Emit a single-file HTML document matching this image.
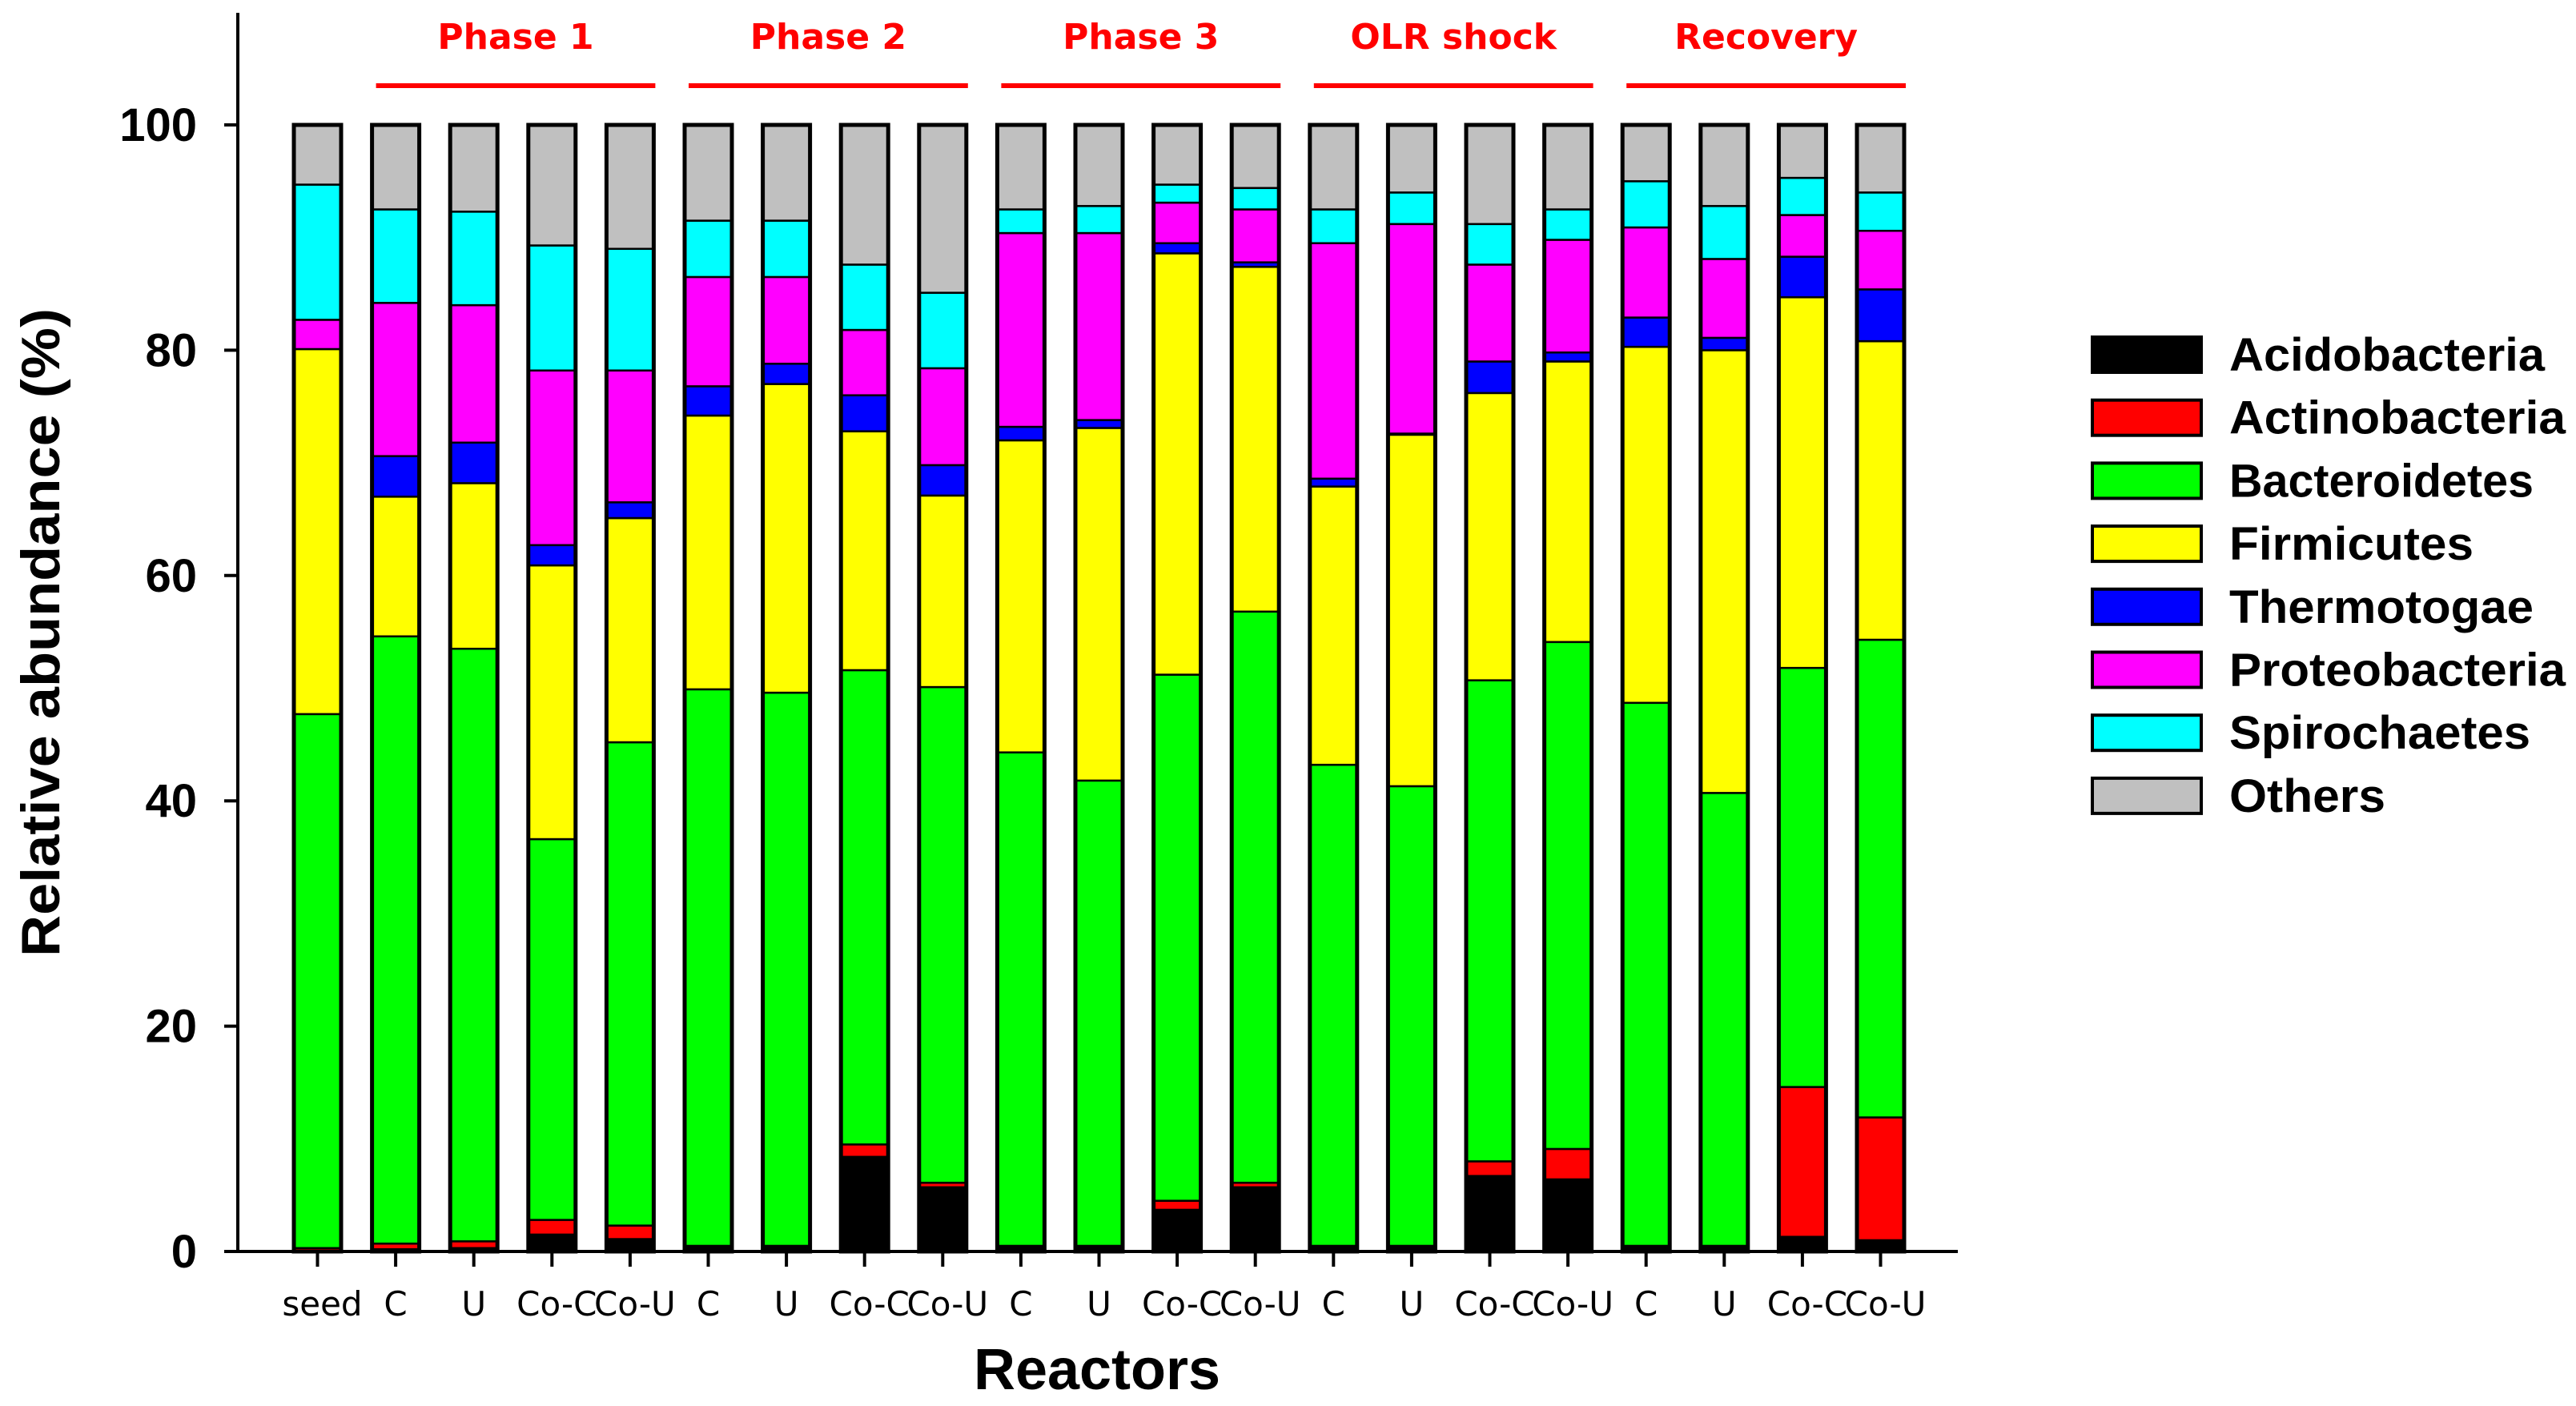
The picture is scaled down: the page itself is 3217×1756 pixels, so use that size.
<!DOCTYPE html>
<html><head><meta charset="utf-8"><style>
html,body{margin:0;padding:0;background:#fff;}
svg{display:block;}
</style></head><body>
<svg id="chart" width="3217" height="1756" viewBox="0 0 3217 1756" xmlns="http://www.w3.org/2000/svg">
<g id="bars"></g>
<g id="axes"></g>
<g id="legend"></g>
</svg>
<script>
const categories = ["seed","C","U","Co-C","Co-U","C","U","Co-C","Co-U","C","U","Co-C","Co-U","C","U","Co-C","Co-U","C","U","Co-C","Co-U"];
const acidobacteria  = [0,0.2,0.3,1.5,1.1,0.5,0.5,8.4,5.7,0.5,0.5,3.7,5.7,0.5,0.5,6.7,6.4,0.5,0.5,1.3,1.0];
const actinobacteria = [0.3,0.5,0.6,1.3,1.2,0,0,1.1,0.4,0,0,0.8,0.4,0,0,1.3,2.7,0,0,13.3,10.9];
const bacteroidetes  = [47.4,53.9,52.6,33.8,42.9,49.4,49.1,42.1,44.0,43.8,41.3,46.7,50.7,42.7,40.8,42.7,45.0,48.2,40.2,37.2,42.4];
const firmicutes     = [32.4,12.4,14.7,24.3,19.9,24.3,27.4,21.2,17.0,27.7,31.3,37.4,30.6,24.7,31.2,25.5,24.9,31.6,39.3,32.9,26.5];
const thermotogae    = [0,3.6,3.6,1.8,1.4,2.6,1.8,3.2,2.7,1.2,0.7,0.9,0.4,0.7,0.1,2.8,0.8,2.6,1.1,3.6,4.6];
const proteobacteria = [2.6,13.6,12.2,15.5,11.7,9.7,7.7,5.8,8.6,17.2,16.6,3.6,4.7,20.9,18.6,8.6,10.0,8.0,7.0,3.7,5.2];
const spirochaetes   = [12.0,8.3,8.3,11.1,10.8,5.0,5.0,5.8,6.7,2.1,2.4,1.6,1.9,3.0,2.8,3.6,2.7,4.1,4.7,3.3,3.4];
const others         = [5.3,7.5,7.7,10.7,11.0,8.5,8.5,12.4,14.9,7.5,7.2,5.3,5.6,7.5,6.0,8.8,7.5,5.0,7.2,4.7,6.0];
const seriesNames = ["Acidobacteria","Actinobacteria","Bacteroidetes","Firmicutes","Thermotogae","Proteobacteria","Spirochaetes","Others"];
const yTicks = [0,20,40,60,80,100];
const phaseNames = ["Phase 1","Phase 2","Phase 3","OLR shock","Recovery"];
const phaseStart = [1,5,9,13,17];
const phaseEnd = [4,8,12,16,20];

const series = [acidobacteria,actinobacteria,bacteroidetes,firmicutes,thermotogae,proteobacteria,spirochaetes,others];
const colors = ["#000000","#ff0000","#00ff00","#ffff00","#0000ff","#ff00ff","#00ffff","#c0c0c0"];
const NS = "http://www.w3.org/2000/svg";
const y0 = 1563, y100 = 156;
function yScale(v){ return y0 - (y0 - y100) * v / 100; }
const barW = 59, step = 97.6, firstX = 367;
function xLeft(i){ return firstX + step * i; }
function xCenter(i){ return xLeft(i) + barW / 2; }
function mk(tag, attrs, parent){ const e = document.createElementNS(NS, tag); for (const k in attrs) e.setAttribute(k, attrs[k]); parent.appendChild(e); return e; }

const barsG = document.getElementById('bars');
categories.forEach((c, i) => {
  const g = mk('g', {}, barsG);
  
  
  let cum = 0;
  series.forEach((s, k) => {
    const v = s[i];
    if (v <= 0) { return; }
    const r = mk('rect', {x: xLeft(i), y: yScale(cum + v), width: barW, height: yScale(cum) - yScale(cum + v), fill: colors[k], stroke: '#000', 'stroke-width': 2.5}, g);
    
    
    cum += v;
  });
  const o = mk('rect', {x: xLeft(i), y: yScale(cum), width: barW, height: yScale(0) - yScale(cum), fill: 'none', stroke: '#000', 'stroke-width': 5}, g);
  
  
});

const ax = document.getElementById('axes');
const yl = mk('line', {x1: 297, y1: 16, x2: 297, y2: 1565, stroke: '#000', 'stroke-width': 4}, ax);


const xl = mk('line', {x1: 280, y1: 1563, x2: 2445, y2: 1563, stroke: '#000', 'stroke-width': 4}, ax);


yTicks.forEach(t => {
  const l = mk('line', {x1: 280, y1: yScale(t), x2: 297, y2: yScale(t), stroke: '#000', 'stroke-width': 4}, ax);
  
  
  const tx = mk('text', {x: 246, y: yScale(t) + 20, 'text-anchor': 'end', 'font-family': 'Liberation Sans, sans-serif', 'font-weight': 'bold', 'font-size': 58, fill: '#000'}, ax);
  tx.textContent = t;
  
  
});
categories.forEach((c, i) => {
  const l = mk('line', {x1: xCenter(i), y1: 1563, x2: xCenter(i), y2: 1582, stroke: '#000', 'stroke-width': 4}, ax);
  
  
  const tx = mk('text', {x: xCenter(i) + (c.length > 2 ? 6 : 0), y: 1643, 'text-anchor': 'middle', 'font-family': 'DejaVu Sans, sans-serif', 'font-size': 42, fill: '#000'}, ax);
  tx.textContent = c;
  
  
});
phaseNames.forEach((p, j) => {
  const xa = xLeft(phaseStart[j]) + 5, xb = xLeft(phaseEnd[j]) + barW + 2;
  const l = mk('line', {x1: xa, y1: 107, x2: xb, y2: 107, stroke: '#ff0000', 'stroke-width': 6}, ax);
  
  
  const tx = mk('text', {x: (xa + xb) / 2, y: 61, 'text-anchor': 'middle', 'font-family': 'DejaVu Sans, sans-serif', 'font-weight': 'bold', 'font-size': 44, fill: '#ff0000'}, ax);
  tx.textContent = p;
  
  
});
const yt = mk('text', {x: 0, y: 0, transform: 'translate(74,790) rotate(-90)', 'text-anchor': 'middle', 'font-family': 'Liberation Sans, sans-serif', 'font-weight': 'bold', 'font-size': 68, textLength: 810, lengthAdjust: 'spacingAndGlyphs', fill: '#000'}, ax);
yt.textContent = 'Relative abundance (%)';


const xt = mk('text', {x: 1370, y: 1735, 'text-anchor': 'middle', 'font-family': 'Liberation Sans, sans-serif', 'font-weight': 'bold', 'font-size': 72, textLength: 308, lengthAdjust: 'spacingAndGlyphs', fill: '#000'}, ax);
xt.textContent = 'Reactors';



const lg = document.getElementById('legend');
const legendW = [394, 420, 380, 305, 380, 420, 376, 195];
seriesNames.forEach((n, k) => {
  const cy = 443 + k * 78.7;
  const g = mk('g', {}, lg);
  
  
  mk('rect', {x: 2613, y: cy - 22, width: 136, height: 44, fill: colors[k], stroke: '#000', 'stroke-width': 4}, g);
  const tx = mk('text', {x: 2784, y: cy + 20, 'font-family': 'Liberation Sans, DejaVu Sans, sans-serif', 'font-weight': 'bold', 'font-size': 58, textLength: legendW[k], lengthAdjust: 'spacingAndGlyphs', fill: '#000'}, g);
  tx.textContent = n;
});
</script>
</body></html>
